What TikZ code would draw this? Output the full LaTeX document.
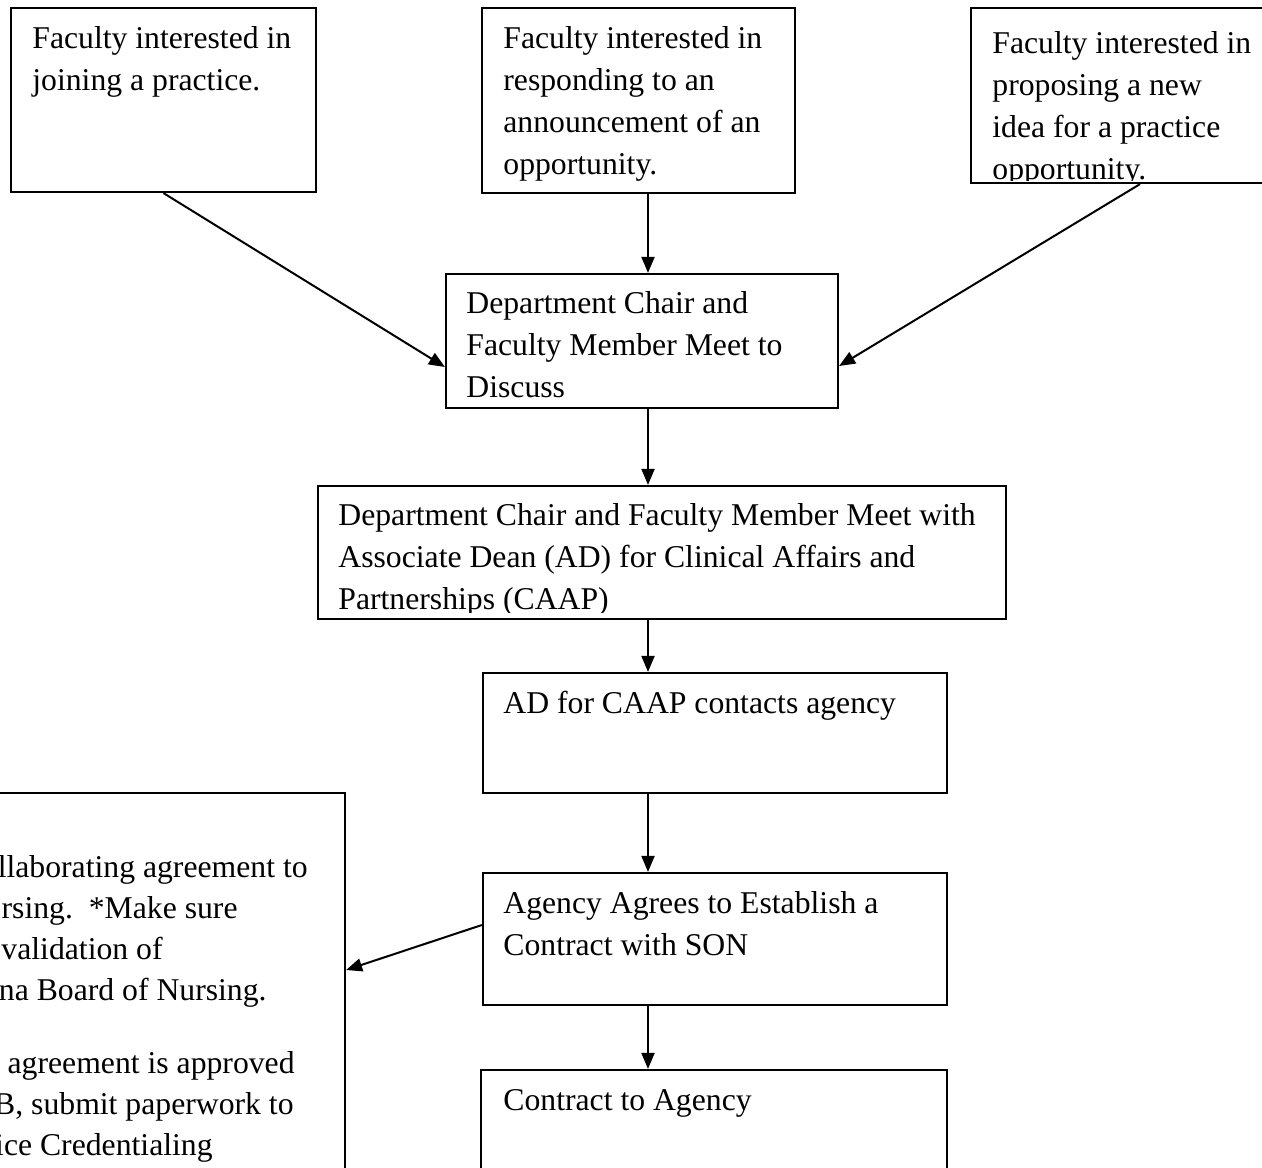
\documentclass[tikz,border=0pt]{standalone}
\usepackage{fontspec}
\setmainfont{Liberation Serif}
\usetikzlibrary{fit,arrows.meta,calc}
\newcommand{\fsz}{\fontsize{15.85}{21}\selectfont}
\begin{document}
\begin{tikzpicture}[x=0.5pt,y=-0.5pt,
  box/.style={draw, line width=1.1pt, inner sep=0pt, fill=none},
  txt/.style={anchor=north west, inner sep=0pt, align=left, font=\fsz},
  frag/.style={anchor=base east, inner sep=0pt, font=\fsz},
  arr/.style={line width=1pt, -{Triangle[length=8pt,width=6.5pt]}}]
\useasboundingbox (0,0) rectangle (1262,1167);
\clip (0,0) rectangle (1262,1167);
% boxes
\node[box, fit={(11,8)(316,192)}] (b1) {};
\node[box, fit={(482,8)(795,193)}] (b2) {};
\node[box, fit={(971,8)(1275,183)}] (b3) {};
\node[box, fit={(446,274)(838,408)}] (b4) {};
\node[box, fit={(318,486)(1006,619)}] (b5) {};
\node[box, fit={(483,673)(947,793)}] (b6) {};
\node[box, fit={(483,873)(947,1005)}] (b7) {};
\node[box, fit={(481,1070)(947,1200)}] (b8) {};
\node[box, fit={(-20,793)(345,1200)}] (lb) {};
\coordinate (cx) at (648,0);
% texts
\node[txt] (t1) at (32,18.6) {\strut Faculty interested in\\joining a practice.};
\node[txt] (t2) at (503,18.6) {\strut Faculty interested in\\responding to an\\announcement of an\\opportunity.};
\begin{scope}
\clip ([xshift=-1pt]b3.north west) rectangle ([yshift=2pt]b3.south east);
\node[txt] (t3) at (992,23.6) {\strut Faculty interested in\\proposing a new\\idea for a practice\\opportunity.};
\end{scope}
\node[txt] (t4) at (466,283.6) {\strut Department Chair and\\Faculty Member Meet to\\Discuss};
\begin{scope}
\clip (b5.north west) rectangle ([yshift=4pt]b5.south east);
\node[txt] (t5) at (338,495.6) {\strut Department Chair and Faculty Member Meet with\\Associate Dean (AD) for Clinical Affairs and\\Partnerships (CAAP)};
\end{scope}
\node[txt] (t6) at (503,683.6) {\strut AD for CAAP contacts agency};
\node[txt] (t7) at (503,883.6) {\strut Agency Agrees to Establish a\\Contract with SON};
\node[txt] (t8) at (503,1080.6) {\strut Contract to Agency};
% left box fragments
\node[frag] (l1) at (308,877) {llaborating agreement to};
\node[frag] (l2) at (238,918) {rsing.\ \ *Make sure};
\node[frag] (l3) at (163,959) {validation of};
\node[frag] (l4) at (267,1000) {na Board of Nursing.};
\node[frag] (l5) at (295,1073) {agreement is approved};
\node[frag] (l6) at (294,1114) {B, submit paperwork to};
\node[frag] (l7) at (213,1155) {ice Credentialing};
% arrows
\draw[arr] (b1.south) -- ([yshift=-13pt]b4.west);
\draw[arr] (b2.south -| cx) -- (b4.north -| cx);
\draw[arr] ([xshift=8.5pt]b3.south) -- ([yshift=-12.5pt]b4.east);
\draw[arr] (b4.south -| cx) -- (b5.north -| cx);
\draw[arr] (b5.south -| cx) -- (b6.north -| cx);
\draw[arr] (b6.south -| cx) -- (b7.north -| cx);
\draw[arr] ([yshift=7pt]b7.west) -- ([yshift=13.25pt]lb.east);
\draw[arr] (b7.south -| cx) -- (b8.north -| cx);
\end{tikzpicture}
\end{document}
